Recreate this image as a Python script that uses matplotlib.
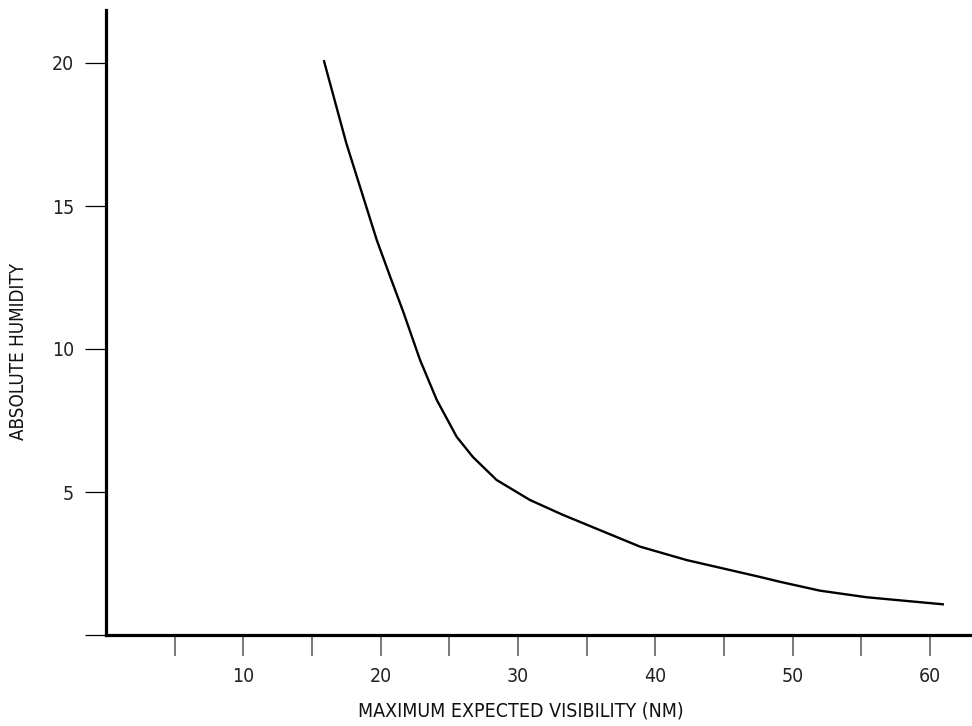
import matplotlib
matplotlib.use("Agg")
import matplotlib.pyplot as plt

# Visibility (nautical miles) vs absolute humidity
visibility = [15.86, 17.5, 19.72, 20.68, 21.65, 22.87, 24.09, 25.54, 26.73,
              28.45, 30.88, 33.28, 35.25, 38.89, 42.29, 47.63, 49.09, 52.0,
              55.40, 58.32, 61.03]
humidity = [20.10, 17.2, 13.81, 12.55, 11.30, 9.62, 8.22, 6.93, 6.22,
            5.42, 4.72, 4.20, 3.81, 3.09, 2.62, 2.03, 1.86, 1.55,
            1.32, 1.19, 1.07]

x_ticks = [5, 10, 15, 20, 25, 30, 35, 40, 45, 50, 55, 60]
x_tick_labels = ["", "10", "", "20", "", "30", "", "40", "", "50", "", "60"]
y_ticks = [0, 5, 10, 15, 20]
y_tick_labels = ["", "5", "10", "15", "20"]

plt.rcParams["font.family"] = ["DejaVu Sans"]
plt.rcParams["font.stretch"] = "condensed"

fig = plt.figure(figsize=(9.72, 7.26), dpi=100)
ax = fig.add_axes([106 / 972, 91 / 726, 866 / 972, 625 / 726])

ax.plot(visibility, humidity, color="black", lw=1.7, solid_capstyle="butt",
        solid_joinstyle="round")

ax.set_xlim(0, 866 / 13.73)
ax.set_ylim(0, 625 / 28.6)

for side in ("top", "right"):
    ax.spines[side].set_visible(False)
for side in ("left", "bottom"):
    ax.spines[side].set_linewidth(2.3)
    ax.spines[side].set_color("black")

ax.set_xticks(x_ticks)
ax.set_xticklabels(x_tick_labels)
ax.set_yticks(y_ticks)
ax.set_yticklabels(y_tick_labels)

ax.tick_params(axis="x", direction="out", length=15, width=1.1, color="#555555",
               pad=8, labelsize=14, labelcolor="#222222")
ax.tick_params(axis="y", direction="out", length=15, width=0.9, color="black",
               pad=8, labelsize=14, labelcolor="#222222")

fig.text(521 / 972, 1 - 711 / 726, "MAXIMUM EXPECTED VISIBILITY (NM)",
         fontsize=14, color="#111111", ha="center", va="center")
fig.text(19 / 972, 1 - 351 / 726, "ABSOLUTE HUMIDITY", rotation=90,
         fontsize=13.5, color="#111111", ha="center", va="center")

fig.savefig("out.png", dpi=100, facecolor="white")
